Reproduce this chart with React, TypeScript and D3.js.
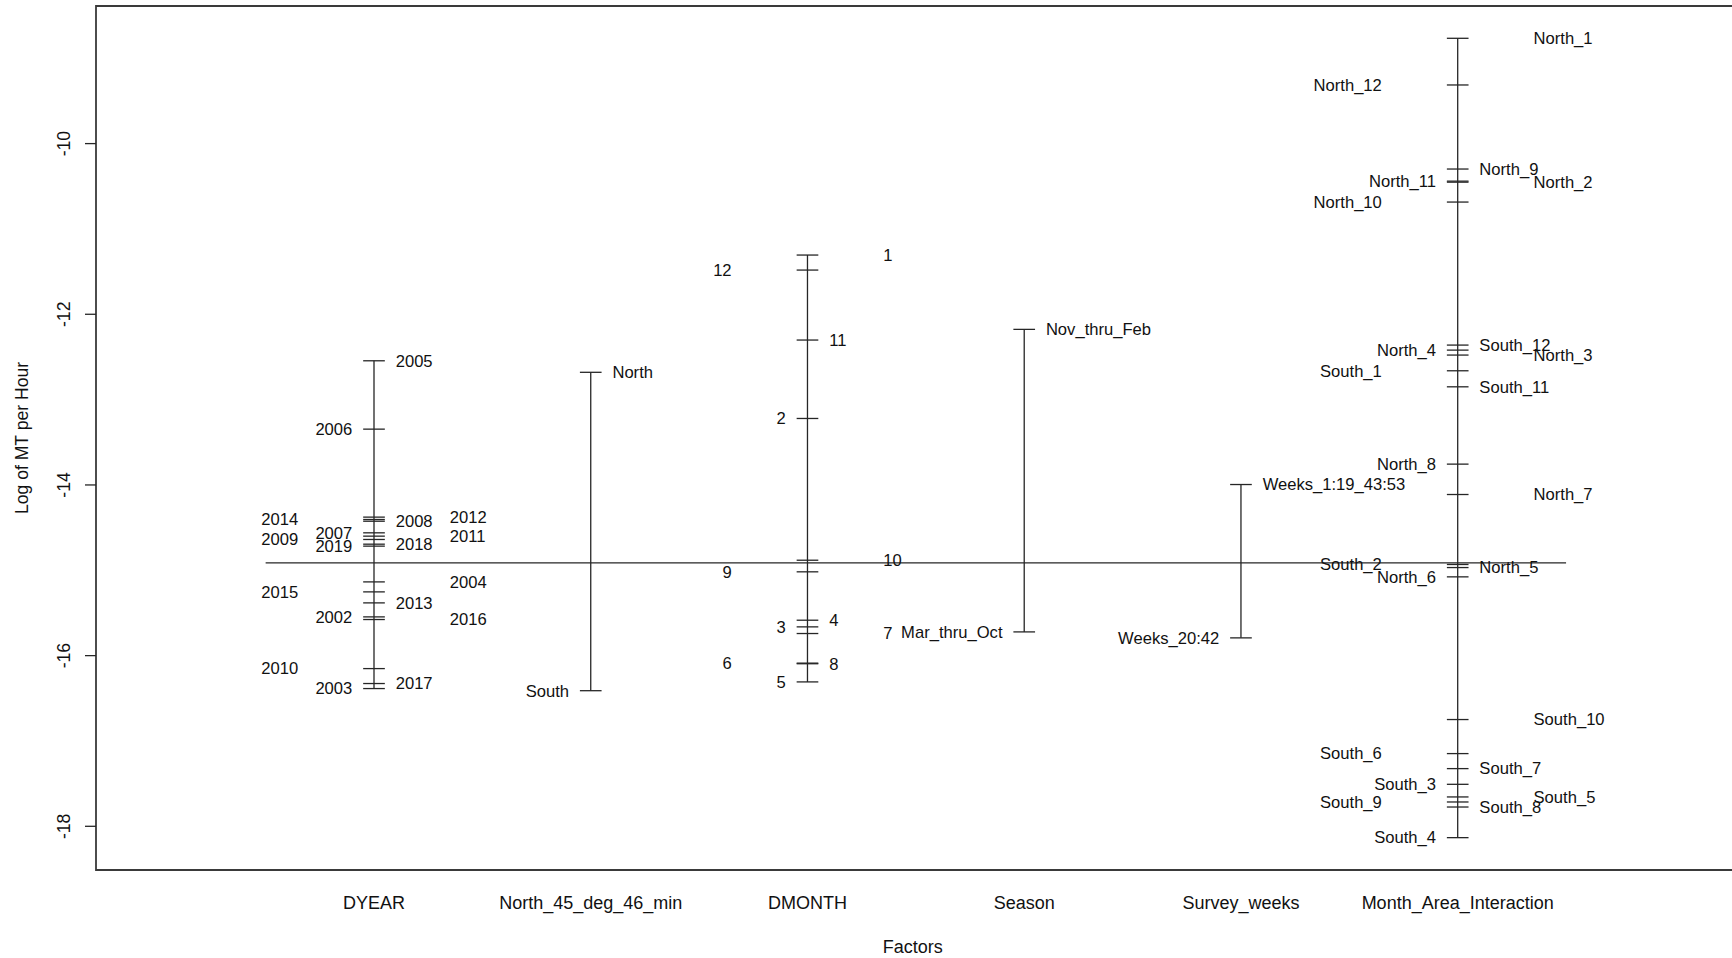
import { useEffect, useRef } from 'react';
import * as d3 from 'd3';

// factor names along the x axis
const factors = ['DYEAR', 'North_45_deg_46_min', 'DMONTH', 'Season', 'Survey_weeks', 'Month_Area_Interaction'];

// level labels and their mean log(MT/hour), one pair of arrays per factor
const yearLevels = ['2005', '2006', '2012', '2014', '2008', '2007', '2011', '2009', '2018', '2019', '2004', '2015', '2013', '2002', '2016', '2010', '2017', '2003'];
const yearMeans = [-12.545, -13.346, -14.377, -14.405, -14.425, -14.561, -14.6, -14.639, -14.694, -14.717, -15.136, -15.253, -15.382, -15.546, -15.577, -16.152, -16.327, -16.386];

const areaLevels = ['North', 'South'];
const areaMeans = [-12.68, -16.411];

const monthLevels = ['1', '12', '11', '2', '10', '9', '4', '3', '7', '6', '8', '5'];
const monthMeans = [-11.306, -11.482, -12.302, -13.221, -14.882, -15.018, -15.585, -15.663, -15.741, -16.088, -16.095, -16.308];

const seasonLevels = ['Nov_thru_Feb', 'Mar_thru_Oct'];
const seasonMeans = [-12.177, -15.722];

const weekLevels = ['Weeks_1:19_43:53', 'Weeks_20:42'];
const weekMeans = [-13.995, -15.792];

const interLevels = [
  'North_1', 'North_12', 'North_9', 'North_11', 'North_2', 'North_10', 'South_12', 'North_4', 'North_3', 'South_1', 'South_11', 'North_8',
  'North_7', 'South_2', 'North_5', 'North_6', 'South_10', 'South_6', 'South_7', 'South_3', 'South_5', 'South_9', 'South_8', 'South_4',
];
const interMeans = [
  -8.766, -9.313, -10.298, -10.44, -10.452, -10.685, -12.361, -12.42, -12.478, -12.662, -12.85, -13.756,
  -14.112, -14.932, -14.968, -15.077, -16.749, -17.148, -17.324, -17.508, -17.656, -17.715, -17.774, -18.133,
];

const grandMean = -14.913;
const yTicks = [-10, -12, -14, -16, -18];

const levelSets = [
  { levels: yearLevels, means: yearMeans },
  { levels: areaLevels, means: areaMeans },
  { levels: monthLevels, means: monthMeans },
  { levels: seasonLevels, means: seasonMeans },
  { levels: weekLevels, means: weekMeans },
  { levels: interLevels, means: interMeans },
];

export default function App() {
  const svgRef = useRef<SVGSVGElement>(null);

  useEffect(() => {
    if (!svgRef.current) return;
    const svg = d3.select(svgRef.current);
    svg.selectAll('*').remove();

    const width = 1732;
    const height = 958;
    const box = { left: 96, top: 6, bottom: 870 };
    const ink = '#262626';
    const font = '"Liberation Sans", Arial, sans-serif';

    const x = d3.scaleLinear().domain([1, 6]).range([374, 1457.7]);
    const y = d3.scaleLinear().domain([-10, -18]).range([143.6, 826.3]);

    // plot frame (right side runs off the image)
    svg.append('path')
      .attr('d', `M${width + 2},${box.top}H${box.left}V${box.bottom}H${width + 2}`)
      .attr('fill', 'none')
      .attr('stroke', '#3a3a3a')
      .attr('stroke-width', 1.8);

    // y axis ticks + labels
    const yAxis = svg.append('g');
    yTicks.forEach(t => {
      yAxis.append('line')
        .attr('x1', box.left - 11).attr('x2', box.left)
        .attr('y1', y(t)).attr('y2', y(t))
        .attr('stroke', ink).attr('stroke-width', 1.3);
      yAxis.append('text')
        .attr('transform', `translate(64,${y(t)}) rotate(-90)`)
        .attr('text-anchor', 'middle')
        .attr('dy', '0.35em')
        .attr('font-family', font)
        .attr('font-size', 17.6)
        .attr('fill', '#111')
        .text(String(t));
    });

    svg.append('text')
      .attr('transform', 'translate(22,438) rotate(-90)')
      .attr('text-anchor', 'middle')
      .attr('dy', '0.35em')
      .attr('font-family', font)
      .attr('font-size', 17.6)
      .attr('fill', '#111')
      .text('Log of MT per Hour');

    // grand mean line
    svg.append('line')
      .attr('x1', x(0.5)).attr('x2', x(6.5))
      .attr('y1', y(grandMean)).attr('y2', y(grandMean))
      .attr('stroke', ink).attr('stroke-width', 1.3);

    // label slots cycle from the lowest level upward: L, R, far L, far R
    const slotOffsets = [-0.1, 0.1, -0.35, 0.35];

    levelSets.forEach((set, i) => {
      const xi = i + 1;
      const g = svg.append('g');
      const ext = d3.extent(set.means) as [number, number];

      g.append('line')
        .attr('x1', x(xi)).attr('x2', x(xi))
        .attr('y1', y(ext[0])).attr('y2', y(ext[1]))
        .attr('stroke', ink).attr('stroke-width', 1.3);

      const order = d3.range(set.levels.length).sort((a, b) => set.means[a] - set.means[b]);
      order.forEach((idx, rank) => {
        const v = set.means[idx];
        g.append('line')
          .attr('x1', x(xi - 0.05)).attr('x2', x(xi + 0.05))
          .attr('y1', y(v)).attr('y2', y(v))
          .attr('stroke', ink).attr('stroke-width', 1.3);

        const off = slotOffsets[rank % 4];
        g.append('text')
          .attr('x', x(xi + off))
          .attr('y', y(v))
          .attr('dy', '0.35em')
          .attr('text-anchor', off < 0 ? 'end' : 'start')
          .attr('font-family', font)
          .attr('font-size', 16.6)
          .attr('fill', '#111')
          .text(set.levels[idx]);
      });

      svg.append('text')
        .attr('x', x(xi))
        .attr('y', 909)
        .attr('text-anchor', 'middle')
        .attr('font-family', font)
        .attr('font-size', 18)
        .attr('fill', '#111')
        .text(factors[i]);
    });

    svg.append('text')
      .attr('x', x(3.5) - 3)
      .attr('y', 953)
      .attr('text-anchor', 'middle')
      .attr('font-family', font)
      .attr('font-size', 18)
      .attr('fill', '#111')
      .text('Factors');
  }, []);

  return (
    <div style={{ position: 'absolute', left: 0, top: 0, width: 1732, height: 958, background: '#fff' }}>
      <svg ref={svgRef} width={1732} height={958} style={{ display: 'block' }} />
    </div>
  );
}
